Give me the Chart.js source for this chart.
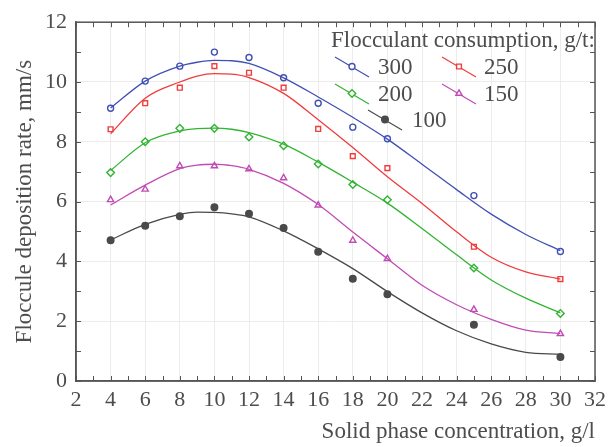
<!DOCTYPE html>
<html>
<head>
<meta charset="utf-8">
<script src="https://cdn.jsdelivr.net/npm/chart.js@4"></script>
<style>
  html, body { margin: 0; padding: 0; background: #fff; }
  #wrap { width: 613px; height: 447px; }
</style>
</head>
<body>
<div id="wrap"><canvas id="chart" width="613" height="447"></canvas></div>
<script>
// Measured points (solid phase concentration, g/l)
const concentration = [4, 6, 8, 10, 12, 14, 16, 18, 20, 25, 30];
const rate300 = [9.12, 10.03, 10.53, 11.0, 10.82, 10.14, 9.29, 8.49, 8.1, 6.2, 4.33];
const rate250 = [8.42, 9.29, 9.81, 10.53, 10.31, 9.81, 8.43, 7.52, 7.12, 4.49, 3.41];
const rate200 = [6.97, 8.0, 8.45, 8.45, 8.16, 7.87, 7.26, 6.57, 6.06, 3.78, 2.26];
const rate150 = [6.06, 6.41, 7.19, 7.19, 7.09, 6.79, 5.88, 4.7, 4.09, 2.39, 1.58];
const rate100 = [4.71, 5.19, 5.51, 5.81, 5.59, 5.12, 4.32, 3.42, 2.9, 1.88, 0.8];

// Fitted curves
const fitX = [4, 6, 8, 9, 10, 11, 12, 14, 16, 18, 20, 22, 24, 26, 28, 30];
const fit300 = [9.13, 10.03, 10.53, 10.66, 10.72, 10.71, 10.62, 10.14, 9.5, 8.82, 8.09, 7.25, 6.4, 5.58, 4.9, 4.36];
const fit250 = [8.27, 9.46, 10.0, 10.2, 10.28, 10.26, 10.15, 9.62, 8.74, 7.81, 6.83, 5.94, 4.99, 4.14, 3.65, 3.41];
const fit200 = [7.04, 7.97, 8.36, 8.44, 8.46, 8.42, 8.31, 7.92, 7.32, 6.65, 5.95, 5.1, 4.22, 3.38, 2.77, 2.28];
const fit150 = [5.89, 6.55, 7.1, 7.22, 7.25, 7.2, 7.08, 6.61, 5.9, 4.98, 4.09, 3.2, 2.55, 2.06, 1.7, 1.59];
const fit100 = [4.72, 5.24, 5.57, 5.65, 5.64, 5.59, 5.49, 5.02, 4.42, 3.76, 2.99, 2.28, 1.68, 1.24, 0.96, 0.89];

const doses = ['300', '250', '200', '150', '100'];
const legendTitle = 'Flocculant consumption, g/t:';

const serif = "'Liberation Serif', 'Times New Roman', serif";
const textColor = '#4d4d4d';

const series = [
  { label: doses[0], pts: rate300, fit: fit300, color: '#4050b4', style: 'circle', radius: 3, fill: false },
  { label: doses[1], pts: rate250, fit: fit250, color: '#f03c3c', style: 'rect', radius: 3.4, fill: false },
  { label: doses[2], pts: rate200, fit: fit200, color: '#32b432', style: 'rectRot', radius: 3.8, fill: false },
  { label: doses[3], pts: rate150, fit: fit150, color: '#c04cb4', style: 'triangle', radius: 3.6, fill: false },
  { label: doses[4], pts: rate100, fit: fit100, color: '#4a4a4a', style: 'circle', radius: 3.3, fill: true }
];

const toXY = (xs, ys) => xs.map((x, i) => ({ x: x, y: ys[i] }));

const datasets = [];
series.forEach(s => {
  datasets.push({
    label: s.label + ' fit',
    data: toXY(fitX, s.fit),
    showLine: true,
    cubicInterpolationMode: 'monotone',
    borderColor: s.color,
    borderWidth: 1.3,
    pointRadius: 0,
    fill: false
  });
  datasets.push({
    label: s.label,
    data: toXY(concentration, s.pts),
    showLine: false,
    pointStyle: s.style,
    pointRadius: s.radius,
    pointBorderColor: s.color,
    pointBackgroundColor: s.fill ? s.color : '#ffffff',
    pointBorderWidth: 1.4
  });
});

// frame, inward minor ticks and the legend
const decorations = {
  id: 'decorations',
  afterDraw(chart) {
    const ctx = chart.ctx;
    const a = chart.chartArea;
    const xs = chart.scales.x, ys = chart.scales.y;
    ctx.save();
    ctx.strokeStyle = '#555';
    ctx.lineWidth = 1;
    for (let v = xs.min; v <= xs.max; v++) {
      const px = Math.round(xs.getPixelForValue(v)) + 0.5;
      ctx.beginPath();
      ctx.moveTo(px, a.bottom); ctx.lineTo(px, a.bottom - 5);
      ctx.moveTo(px, a.top); ctx.lineTo(px, a.top + 5);
      ctx.stroke();
    }
    for (let v = ys.min; v <= ys.max; v++) {
      const py = Math.round(ys.getPixelForValue(v)) + 0.5;
      ctx.beginPath();
      ctx.moveTo(a.left, py); ctx.lineTo(a.left + 5, py);
      ctx.moveTo(a.right, py); ctx.lineTo(a.right - 5, py);
      ctx.stroke();
    }
    ctx.lineWidth = 1.5;
    ctx.strokeRect(a.left, a.top, a.right - a.left, a.bottom - a.top);

    // legend
    ctx.fillStyle = textColor;
    ctx.textBaseline = 'middle';
    ctx.textAlign = 'left';
    ctx.font = '23px ' + serif;
    ctx.fillText(legendTitle, 331, 41);
    const slots = [
      [335, 57, 378], [442, 57, 484],
      [335, 84, 378], [442, 84, 484],
      [368, 110, 412]
    ];
    series.forEach((s, i) => {
      const [lx, ly, tx] = slots[i];
      ctx.strokeStyle = s.color;
      ctx.lineWidth = 1.2;
      ctx.beginPath();
      ctx.moveTo(lx, ly); ctx.lineTo(lx + 34, ly + 20);
      ctx.stroke();
      ctx.fillStyle = s.fill ? s.color : '#ffffff';
      ctx.lineWidth = 1.4;
      Chart.helpers.drawPoint(ctx, { pointStyle: s.style, radius: s.radius, rotation: 0, borderWidth: 1.4 }, lx + 17, ly + 9.5);
      ctx.fillStyle = textColor;
      ctx.font = '23px ' + serif;
      ctx.fillText(s.label, tx, ly + 11);
    });
    ctx.restore();
  }
};

new Chart(document.getElementById('chart'), {
  type: 'scatter',
  data: { datasets: datasets },
  plugins: [decorations],
  options: {
    responsive: false,
    animation: false,
    layout: { padding: { top: 16, right: 18, left: 0, bottom: 0 } },
    plugins: { legend: { display: false }, tooltip: { enabled: false } },
    scales: {
      x: {
        type: 'linear',
        min: 2, max: 32,
        afterFit(scale) { scale.height = 66; },
        ticks: { stepSize: 2, autoSkip: false, maxRotation: 0, padding: 6, color: textColor, font: { family: serif, size: 22 } },
        grid: { color: '#ececec', drawTicks: false },
        border: { display: true, color: '#555', width: 1.5 },
        title: { display: true, text: 'Solid phase concentration, g/l', align: 'end', color: textColor, font: { family: serif, size: 23 }, padding: { top: 0, bottom: 1 } }
      },
      y: {
        min: 0, max: 12,
        afterFit(scale) { scale.width = 76; },
        ticks: { stepSize: 2, padding: 9, color: textColor, font: { family: serif, size: 22 } },
        grid: { color: '#ececec', drawTicks: false },
        border: { display: true, color: '#555', width: 1.5 },
        title: { display: true, text: 'Floccule deposition rate, mm/s', color: textColor, font: { family: serif, size: 23 }, padding: { top: 11, bottom: 0 } }
      }
    }
  }
});
</script>
</body>
</html>
